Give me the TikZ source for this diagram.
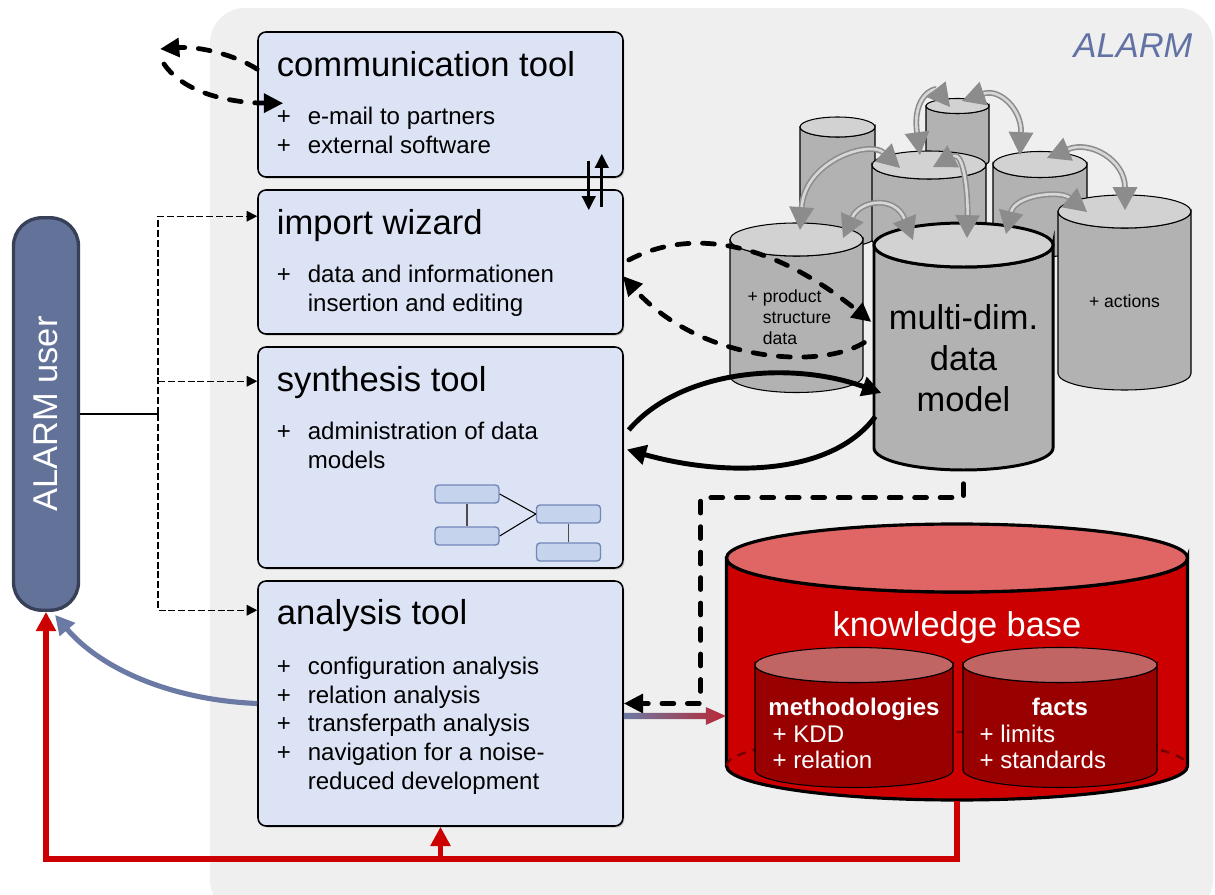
\documentclass[tikz,border=0pt]{standalone}
\usepackage{fontspec}
\setmainfont{Liberation Sans}
\usetikzlibrary{arrows.meta,calc,shadows}

\definecolor{bggray}{RGB}{239,239,239}
\definecolor{boxblue}{RGB}{220,227,244}
\definecolor{userblue}{RGB}{99,114,153}
\definecolor{userdark}{RGB}{55,64,86}
\definecolor{alarmtxt}{RGB}{98,114,164}
\definecolor{cylbody}{RGB}{178,178,178}
\definecolor{cyltop}{RGB}{210,210,210}
\definecolor{arrgray}{RGB}{140,140,140}
\definecolor{arrlight}{RGB}{215,215,215}
\definecolor{kbred}{RGB}{204,0,0}
\definecolor{kbtop}{RGB}{224,102,102}
\definecolor{kbdark}{RGB}{153,0,0}
\definecolor{kbinner}{RGB}{192,100,100}
\definecolor{kbback}{RGB}{110,0,0}
\definecolor{minifill}{RGB}{197,211,237}
\definecolor{minidraw}{RGB}{115,135,185}
\definecolor{linkblue}{RGB}{106,122,164}
\definecolor{linkred}{RGB}{185,40,55}
\definecolor{fbred}{RGB}{204,0,0}

\tikzset{every picture/.style={line width=0.75pt}}
\tikzset{
	tool/.style={draw,fill=boxblue,rounded corners=4.5pt,line width=0.9pt,minimum width=7.3cm,inner sep=0pt,
		drop shadow={shadow xshift=0.8pt,shadow yshift=-0.9pt,opacity=0.4}},
	toolhead/.style={anchor=base west,inner sep=0pt,font=\fontsize{19.7}{23}\selectfont},
	toollist/.style={anchor=base west,inner sep=0pt,font=\fontsize{13.7}{16.4}\selectfont},
	userbox/.style={draw=userdark,fill=userblue,line width=1.9pt,rounded corners=16pt,minimum width=1.3cm,minimum height=7.85cm},
	userlink/.style={line width=0.8pt,dash pattern=on 4pt off 1.6pt,-{Triangle[length=6pt,width=6pt]}},
	bigdash/.style={line width=2.7pt,dash pattern=on 6.8pt off 7.7pt,line cap=round,-{Triangle[length=11pt,width=10.5pt]}},
	fatarrow/.style={line width=2.8pt,-{Triangle[length=11pt,width=11pt]}},
	updown/.style={line width=1.8pt,-{Triangle[length=8pt,width=7.5pt]}},
	garrow/.style={draw=arrgray,double=arrlight,double distance=1.5pt,line width=0.9pt,
		{Triangle[length=13pt,width=14pt]}-{Triangle[length=13pt,width=14pt]}},
	fbline/.style={draw=fbred,line width=2.9pt,-{Triangle[length=11pt,width=11pt]}},
	tobuser/.style={draw=linkblue,line width=2.9pt,-{Triangle[length=11pt,width=11pt]}},
	mini/.style={draw=minidraw,fill=minifill,line width=0.8pt,rounded corners=2pt,minimum width=1.28cm,minimum height=0.36cm},
	minilink/.style={line width=0.6pt},
	bigtxt/.style={inner sep=0pt,font=\fontsize{19.6}{23.3}\selectfont},
	smalltxt/.style={inner sep=0pt,font=\fontsize{10}{11.9}\selectfont},
	kbtxt/.style={inner sep=0pt,text=white,font=\fontsize{13.7}{15.3}\selectfont},
}

\newcommand{\tooltasks}[1]{\begin{tabular}[t]{@{}l@{\hspace{9.6pt}}l@{}}#1\end{tabular}}
% cylinder: name, centre x, top y, bottom y, x radius, y radius, body, top, line width
\newcommand{\dbcyl}[9]{%
	\draw[line width=#9,fill=#7] ({#2-#5},{-#3}) -- ({#2-#5},{-#4})
		arc[start angle=180,end angle=360,x radius=#5,y radius=#6]
		-- ({#2+#5},{-#3}) arc[start angle=0,end angle=-180,x radius=#5,y radius=#6] -- cycle;
	\draw[line width=#9,fill=#8] (#2,-#3) ellipse[x radius=#5,y radius=#6];
	\coordinate (#1-top) at (#2,-#3);
	\coordinate (#1-bot) at (#2,-#4);
	\node[inner sep=0pt,minimum width={2*#5*0.02cm},minimum height={(#4-#3+2*#6)*0.02cm}] (#1) at (#2,{-(#3+#4)/2}) {};
}

\begin{document}
\begin{tikzpicture}[x=0.02cm,y=0.02cm,>={Triangle[length=9pt,width=9pt]}]
	\useasboundingbox (0,0) rectangle (1215,-895);
	%Background
	\fill[bggray,rounded corners=20pt] (210,-8) rectangle (1213,-915);
	\node[font=\itshape\fontsize{19.6}{23}\selectfont,text=alarmtxt,anchor=base,inner sep=0pt] (alarmtag) at (1133,-58) {ALARM};
	%Tools
	\node[tool,minimum height=2.9cm] (com) at (440.5,-104.5) {};
	\node[toolhead] (comhead) at ($(com.north west)+(19,-45)$) {communication tool};
	\node[toollist] (comlist) at ($(com.north west)+(19,-93)$) {\tooltasks{+ & e-mail to partners\\ + & external software}};
	\node[tool,minimum height=2.88cm] (imp) at (440.5,-262) {};
	\node[toolhead] (imphead) at ($(imp.north west)+(19,-45)$) {import wizard};
	\node[toollist] (implist) at ($(imp.north west)+(19,-93)$) {\tooltasks{+ & data and informationen\\ & insertion and editing}};
	\node[tool,minimum height=4.42cm] (syn) at (440.5,-457.5) {};
	\node[toolhead] (synhead) at ($(syn.north west)+(19,-45)$) {synthesis tool};
	\node[toollist] (synlist) at ($(syn.north west)+(19,-93)$) {\tooltasks{+ & administration of data\\ & models}};
	\node[tool,minimum height=4.9cm] (ana) at (440.5,-703.5) {};
	\node[toolhead] (anahead) at ($(ana.north west)+(19,-44)$) {analysis tool};
	\node[toollist] (analist) at ($(ana.north west)+(19,-94)$) {\tooltasks{+ & configuration analysis\\ + & relation analysis\\ + & transferpath analysis\\ + & navigation for a noise-\\ & reduced development}};
	%Small model sketch
	\node[mini] (m1) at (467,-494) {};
	\node[mini] (m2) at (467,-536) {};
	\node[mini] (m3) at (568.5,-514) {};
	\node[mini] (m4) at (568.5,-552) {};
	\draw[line width=1.1pt,black!70] (m1) -- (m2);
	\draw[line width=1.1pt,black!70] (m3) -- (m4);
	\draw[minilink] (m1.east) -- (m3.west);
	\draw[minilink] (m2.east) -- (m3.west);
	%User
	\node[userbox] (user) at (46,-414) {};
	\node[rotate=90,text=white,font=\fontsize{19.6}{23}\selectfont] (usertxt) at (user) {ALARM user};
	\coordinate (split) at (158,-414);
	\coordinate (impin) at ($(imp.north west)+(0,-27)$);
	\coordinate (synin) at ($(syn.north west)+(0,-35)$);
	\coordinate (anain) at ($(ana.north west)+(0,-30)$);
	\draw[line width=0.8pt] (user.east) -- (split);
	\draw[userlink] (split) |- (impin);
	\draw[userlink] (split) |- (anain);
	\draw[userlink] (split |- synin) -- (synin);
	%Data cylinders
	\dbcyl{back}{837.5}{127}{237}{37.5}{10}{cylbody}{cyltop}{0.6pt}
	\dbcyl{btop}{957.5}{106}{161}{31.5}{7.5}{cylbody}{cyltop}{0.6pt}
	\dbcyl{mid}{929}{165}{240}{57}{14}{cylbody}{cyltop}{0.6pt}
	\dbcyl{rmid}{1040}{164.5}{244}{47}{13}{cylbody}{cyltop}{0.6pt}
	\dbcyl{prod}{796.5}{239.5}{376}{66.5}{16.5}{cylbody}{cyltop}{0.6pt}
	\dbcyl{act}{1124.5}{211.5}{373.5}{66.5}{16.5}{cylbody}{cyltop}{0.6pt}
	\dbcyl{mdm}{963.5}{245}{448}{89.5}{22}{cylbody}{cyltop}{1.7pt}
	\node[smalltxt,anchor=base west] (prodtxt) at (747,-303) {\begin{tabular}[t]{@{}l@{\hspace{2.8pt}}l@{}}+&product\\&structure\\&data\end{tabular}};
	\node[smalltxt,anchor=base] (acttxt) at (1124.5,-308) {+ actions};
	\node[bigtxt,anchor=base] (mdmtxt) at (963.5,-330) {\begin{tabular}[t]{@{}c@{}}multi-dim.\\data\\model\end{tabular}};
	%Links between cylinders
	\draw[garrow] ($(mid-top)+(-9,10)$) .. controls (912,-95) and (935,-88) .. ($(btop-top)+(-7.5,-1)$);
	\draw[garrow] ($(btop-top)+(4.5,5)$) .. controls (1000,-88) and (1022,-110) .. ($(rmid-top)+(-20,9.5)$);
	\draw[garrow] ($(prod-top)+(3.5,9.5)$) .. controls (805,-160) and (870,-140) .. ($(mid-top)+(-29,-3)$);
	\draw[garrow] ($(prod-top)+(46.5,1.5)$) .. controls (860,-200) and (895,-195) .. ($(mdm-top)+(-50.5,5)$);
	\draw[garrow] ($(mid-top)+(4,-2)$) .. controls (965,-150) and (968,-200) .. ($(mdm-top)+(3.5,7)$);
	\draw[garrow] ($(mdm-top)+(42.5,11)$) .. controls (1015,-195) and (1060,-190) .. ($(act-top)+(-37.5,-0.5)$);
	\draw[garrow] ($(rmid-top)+(7,6.5)$) .. controls (1090,-140) and (1125,-160) .. ($(act-top)+(0.5,1.5)$);
	%Knowledge base
	\dbcyl{kb}{957}{558}{766}{230.5}{34}{kbred}{kbtop}{1.8pt}
	\draw[kbback,line width=1.3pt,dash pattern=on 5pt off 4pt] ($(kb-bot)+(-230.5,0)$) arc[start angle=180,end angle=0,x radius=230.5,y radius=34];
	\dbcyl{meth}{854}{665}{770}{99}{17.5}{kbdark}{kbinner}{0.6pt}
	\dbcyl{facts}{1060}{665}{770}{97}{17.5}{kbdark}{kbinner}{0.6pt}
	\node[bigtxt,text=white,anchor=base] (kbname) at (957,-636) {knowledge base};
	\node[kbtxt,font=\bfseries\fontsize{13.7}{15.3}\selectfont,anchor=base] (methname) at (854,-715) {methodologies};
	\node[kbtxt,anchor=base west] (methlist) at (772,-742) {\begin{tabular}[t]{@{}l@{}}+ KDD\\+ relation\end{tabular}};
	\node[kbtxt,font=\bfseries\fontsize{13.7}{15.3}\selectfont,anchor=base] (factsname) at (1060,-715) {facts};
	\node[kbtxt,anchor=base west] (factslist) at (979,-742) {\begin{tabular}[t]{@{}l@{}}+ limits\\+ standards\end{tabular}};
	%Communication tool loop
	\coordinate (mailout) at (160,-49);
	\coordinate (mailin) at (164,-64);
	\draw[bigdash] ($(com.north west)+(0,-38)$) .. controls (235,-55) and (200,-46) .. (mailout);
	\draw[bigdash] (mailin) .. controls (185,-95) and (235,-103) .. ($(com.north west)+(26,-72)$);
	\draw[updown] ($(com.south east)+(-35,17)$) -- ($(imp.north east)+(-35,-21)$);
	\draw[updown] ($(imp.north east)+(-22,-18)$) -- ($(com.south east)+(-22,24)$);
	%Import and synthesis links
	\draw[bigdash] ($(imp.east)+(5,2)$) .. controls (690,-228) and (770,-240) .. ($(mdm.west)+(-2,24.5)$);
	\draw[bigdash] ($(mdm.west)+(-9,4)$) .. controls (820,-370) and (700,-362) .. ($(imp.east)+(-1,-14)$);
	\draw[fatarrow] ($(syn.east)+(5,27.5)$) .. controls (680,-370) and (790,-360) .. ($(mdm.west)+(8,-46.5)$);
	\draw[fatarrow] ($(mdm.west)+(2,-70)$) .. controls (830,-478) and (720,-476) .. ($(syn.east)+(3,8)$);
	\draw[bigdash] ($(mdm.south)+(0,-13)$) -- ++(0,-14) -| ($(ana.east)+(77,0)$) -- (ana.east);
	%Analysis to knowledge base
	\coordinate (gs) at ($(ana.east)+(0,-12.5)$);
	\coordinate (ge) at (kb.west |- gs);
	\shade[left color=linkblue,right color=linkred] ($(gs)+(0,3.2)$) -- ($(ge)+(-20,3.2)$) -- ($(ge)+(-20,9)$) -- (ge)
		-- ($(ge)+(-20,-9)$) -- ($(ge)+(-20,-3.2)$) -- ($(gs)+(0,-3.2)$) -- cycle;
	%Feedback
	\draw[tobuser] (ana.west) .. controls (170,-700) and (100,-668) .. ($(user.south)+(9,-3)$);
	\coordinate (redrow) at (0,-859);
	\draw[fbline] (kb.south) -- (kb.south |- redrow) -| (user.south);
	\draw[fbline] (ana.south |- redrow) -- (ana.south);
\end{tikzpicture}
\end{document}
